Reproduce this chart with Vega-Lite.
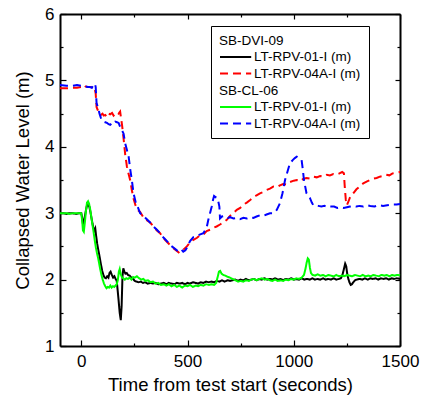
{
"$schema":"https://vega.github.io/schema/vega-lite/v6.json",
"width":340,"height":332,
"autosize":{"type":"none"},
"padding":{"left":60,"top":14,"right":21,"bottom":59},
"background":"white",
"config":{
 "view":{"stroke":null},
 "font":"Liberation Sans",
 "axis":{"grid":false,"domainColor":"black","domainWidth":2,"tickColor":"black","tickWidth":1.2,"labelColor":"black","titleColor":"black","labelFont":"Liberation Sans","titleFont":"Liberation Sans","labelFontSize":17,"titleFontSize":18.5,"titleFontWeight":"normal","labelFlush":false,"labelOverlap":false,"labelBound":false,"format":"d"},
 "legend":{"labelFont":"Liberation Sans","titleFont":"Liberation Sans","labelFontSize":13.5,"titleFontSize":13.5,"titleFontWeight":"normal","labelColor":"black","titleColor":"black","symbolType":"M-1,0H4.2","symbolSize":144,"symbolStrokeWidth":2,"labelOffset":21,"rowPadding":2.6,"titlePadding":2.5,"labelLimit":0}
},
"datasets":{
"dvi":[
{"s":"01","t":-100,"v":3.0},{"s":"01","t":-85,"v":3.0},{"s":"01","t":-70,"v":2.99},{"s":"01","t":-55,"v":3.0},{"s":"01","t":-40,"v":3.0},{"s":"01","t":-25,"v":2.99},{"s":"01","t":-10,"v":3.0},{"s":"01","t":0,"v":3.0},{"s":"01","t":4,"v":2.94},{"s":"01","t":8,"v":2.84},{"s":"01","t":13,"v":2.88},{"s":"01","t":18,"v":2.97},{"s":"01","t":23,"v":3.06},{"s":"01","t":28,"v":3.13},{"s":"01","t":33,"v":3.12},{"s":"01","t":38,"v":3.1},{"s":"01","t":43,"v":3.02},{"s":"01","t":48,"v":2.93},{"s":"01","t":53,"v":2.84},{"s":"01","t":58,"v":2.77},{"s":"01","t":62,"v":2.74},{"s":"01","t":66,"v":2.77},{"s":"01","t":70,"v":2.66},{"s":"01","t":75,"v":2.54},{"s":"01","t":80,"v":2.45},{"s":"01","t":86,"v":2.35},{"s":"01","t":92,"v":2.24},{"s":"01","t":98,"v":2.14},{"s":"01","t":104,"v":2.07},{"s":"01","t":110,"v":2.03},{"s":"01","t":116,"v":2.02},{"s":"01","t":122,"v":2.05},{"s":"01","t":128,"v":2.03},{"s":"01","t":133,"v":2.1},{"s":"01","t":138,"v":2.12},{"s":"01","t":144,"v":2.07},{"s":"01","t":150,"v":2.03},{"s":"01","t":156,"v":2.05},{"s":"01","t":162,"v":2.01},{"s":"01","t":167,"v":1.98},{"s":"01","t":171,"v":1.85},{"s":"01","t":176,"v":1.68},{"s":"01","t":181,"v":1.5},{"s":"01","t":186,"v":1.39},{"s":"01","t":190,"v":1.6},{"s":"01","t":194,"v":2.05},{"s":"01","t":198,"v":2.17},{"s":"01","t":203,"v":2.12},{"s":"01","t":208,"v":2.09},{"s":"01","t":214,"v":2.1},{"s":"01","t":220,"v":2.07},{"s":"01","t":228,"v":2.06},{"s":"01","t":236,"v":2.03},{"s":"01","t":244,"v":2.01},{"s":"01","t":252,"v":1.98},{"s":"01","t":260,"v":1.97},{"s":"01","t":270,"v":1.96},{"s":"01","t":280,"v":1.97},{"s":"01","t":290,"v":1.95},{"s":"01","t":300,"v":1.96},{"s":"01","t":312,"v":1.94},{"s":"01","t":325,"v":1.95},{"s":"01","t":338,"v":1.94},{"s":"01","t":350,"v":1.95},{"s":"01","t":362,"v":1.93},{"s":"01","t":375,"v":1.94},{"s":"01","t":388,"v":1.95},{"s":"01","t":400,"v":1.93},{"s":"01","t":412,"v":1.95},{"s":"01","t":425,"v":1.94},{"s":"01","t":438,"v":1.93},{"s":"01","t":450,"v":1.95},{"s":"01","t":462,"v":1.94},{"s":"01","t":475,"v":1.95},{"s":"01","t":488,"v":1.93},{"s":"01","t":500,"v":1.95},{"s":"01","t":512,"v":1.94},{"s":"01","t":525,"v":1.96},{"s":"01","t":538,"v":1.95},{"s":"01","t":550,"v":1.94},{"s":"01","t":562,"v":1.96},{"s":"01","t":575,"v":1.95},{"s":"01","t":588,"v":1.97},{"s":"01","t":600,"v":1.96},{"s":"01","t":612,"v":1.97},{"s":"01","t":625,"v":1.96},{"s":"01","t":638,"v":1.98},{"s":"01","t":650,"v":1.97},{"s":"01","t":662,"v":1.99},{"s":"01","t":675,"v":1.97},{"s":"01","t":688,"v":1.99},{"s":"01","t":700,"v":1.98},{"s":"01","t":712,"v":1.99},{"s":"01","t":725,"v":2.0},{"s":"01","t":738,"v":1.98},{"s":"01","t":750,"v":2.0},{"s":"01","t":762,"v":1.99},{"s":"01","t":775,"v":2.01},{"s":"01","t":788,"v":1.99},{"s":"01","t":800,"v":2.0},{"s":"01","t":812,"v":2.01},{"s":"01","t":825,"v":1.99},{"s":"01","t":838,"v":2.01},{"s":"01","t":850,"v":2.0},{"s":"01","t":862,"v":2.02},{"s":"01","t":875,"v":2.0},{"s":"01","t":888,"v":2.01},{"s":"01","t":900,"v":2.0},{"s":"01","t":912,"v":2.02},{"s":"01","t":925,"v":2.0},{"s":"01","t":938,"v":2.01},{"s":"01","t":950,"v":1.99},{"s":"01","t":962,"v":2.01},{"s":"01","t":975,"v":2.0},{"s":"01","t":988,"v":2.02},{"s":"01","t":1000,"v":2.0},{"s":"01","t":1012,"v":2.01},{"s":"01","t":1025,"v":2.0},{"s":"01","t":1038,"v":2.02},{"s":"01","t":1050,"v":2.0},{"s":"01","t":1062,"v":2.01},{"s":"01","t":1075,"v":2.0},{"s":"01","t":1088,"v":2.02},{"s":"01","t":1100,"v":2.0},{"s":"01","t":1112,"v":2.01},{"s":"01","t":1125,"v":2.0},{"s":"01","t":1138,"v":2.02},{"s":"01","t":1150,"v":2.0},{"s":"01","t":1162,"v":2.01},{"s":"01","t":1175,"v":2.0},{"s":"01","t":1188,"v":2.02},{"s":"01","t":1200,"v":2.0},{"s":"01","t":1212,"v":2.01},{"s":"01","t":1222,"v":2.02},{"s":"01","t":1230,"v":2.08},{"s":"01","t":1236,"v":2.16},{"s":"01","t":1242,"v":2.24},{"s":"01","t":1247,"v":2.2},{"s":"01","t":1252,"v":2.08},{"s":"01","t":1257,"v":2.01},{"s":"01","t":1262,"v":1.96},{"s":"01","t":1268,"v":1.92},{"s":"01","t":1274,"v":1.93},{"s":"01","t":1280,"v":1.96},{"s":"01","t":1288,"v":1.99},{"s":"01","t":1296,"v":2.0},{"s":"01","t":1310,"v":2.01},{"s":"01","t":1322,"v":2.0},{"s":"01","t":1335,"v":2.02},{"s":"01","t":1348,"v":2.0},{"s":"01","t":1360,"v":2.02},{"s":"01","t":1372,"v":2.01},{"s":"01","t":1385,"v":2.02},{"s":"01","t":1398,"v":2.0},{"s":"01","t":1410,"v":2.02},{"s":"01","t":1422,"v":2.01},{"s":"01","t":1435,"v":2.02},{"s":"01","t":1448,"v":2.0},{"s":"01","t":1460,"v":2.02},{"s":"01","t":1472,"v":2.01},{"s":"01","t":1485,"v":2.02},{"s":"01","t":1500,"v":2.01},
{"s":"04A","t":-100,"v":4.88},{"s":"04A","t":-70,"v":4.88},{"s":"04A","t":-40,"v":4.89},{"s":"04A","t":-20,"v":4.89},{"s":"04A","t":0,"v":4.9},{"s":"04A","t":8,"v":4.92},{"s":"04A","t":14,"v":4.93},{"s":"04A","t":20,"v":4.91},{"s":"04A","t":30,"v":4.9},{"s":"04A","t":45,"v":4.9},{"s":"04A","t":55,"v":4.89},{"s":"04A","t":62,"v":4.9},{"s":"04A","t":68,"v":4.8},{"s":"04A","t":72,"v":4.6},{"s":"04A","t":78,"v":4.55},{"s":"04A","t":85,"v":4.5},{"s":"04A","t":92,"v":4.48},{"s":"04A","t":100,"v":4.5},{"s":"04A","t":106,"v":4.47},{"s":"04A","t":113,"v":4.48},{"s":"04A","t":120,"v":4.45},{"s":"04A","t":128,"v":4.5},{"s":"04A","t":136,"v":4.49},{"s":"04A","t":145,"v":4.51},{"s":"04A","t":152,"v":4.47},{"s":"04A","t":160,"v":4.5},{"s":"04A","t":168,"v":4.52},{"s":"04A","t":176,"v":4.5},{"s":"04A","t":183,"v":4.53},{"s":"04A","t":188,"v":4.42},{"s":"04A","t":193,"v":4.3},{"s":"04A","t":200,"v":4.1},{"s":"04A","t":207,"v":3.88},{"s":"04A","t":215,"v":3.7},{"s":"04A","t":222,"v":3.6},{"s":"04A","t":230,"v":3.5},{"s":"04A","t":238,"v":3.35},{"s":"04A","t":246,"v":3.22},{"s":"04A","t":255,"v":3.12},{"s":"04A","t":265,"v":3.05},{"s":"04A","t":277,"v":3.02},{"s":"04A","t":290,"v":2.95},{"s":"04A","t":305,"v":2.9},{"s":"04A","t":324,"v":2.86},{"s":"04A","t":340,"v":2.8},{"s":"04A","t":356,"v":2.74},{"s":"04A","t":371,"v":2.7},{"s":"04A","t":388,"v":2.62},{"s":"04A","t":403,"v":2.57},{"s":"04A","t":418,"v":2.52},{"s":"04A","t":435,"v":2.47},{"s":"04A","t":450,"v":2.43},{"s":"04A","t":458,"v":2.41},{"s":"04A","t":468,"v":2.45},{"s":"04A","t":480,"v":2.45},{"s":"04A","t":497,"v":2.5},{"s":"04A","t":512,"v":2.56},{"s":"04A","t":528,"v":2.6},{"s":"04A","t":545,"v":2.63},{"s":"04A","t":560,"v":2.67},{"s":"04A","t":575,"v":2.68},{"s":"04A","t":590,"v":2.73},{"s":"04A","t":606,"v":2.75},{"s":"04A","t":621,"v":2.78},{"s":"04A","t":637,"v":2.8},{"s":"04A","t":653,"v":2.83},{"s":"04A","t":669,"v":2.86},{"s":"04A","t":685,"v":2.9},{"s":"04A","t":700,"v":2.96},{"s":"04A","t":716,"v":3.0},{"s":"04A","t":732,"v":3.05},{"s":"04A","t":748,"v":3.08},{"s":"04A","t":764,"v":3.13},{"s":"04A","t":779,"v":3.16},{"s":"04A","t":795,"v":3.2},{"s":"04A","t":810,"v":3.24},{"s":"04A","t":825,"v":3.27},{"s":"04A","t":841,"v":3.3},{"s":"04A","t":857,"v":3.32},{"s":"04A","t":872,"v":3.35},{"s":"04A","t":888,"v":3.37},{"s":"04A","t":904,"v":3.4},{"s":"04A","t":920,"v":3.39},{"s":"04A","t":935,"v":3.42},{"s":"04A","t":950,"v":3.44},{"s":"04A","t":966,"v":3.43},{"s":"04A","t":982,"v":3.47},{"s":"04A","t":1000,"v":3.49},{"s":"04A","t":1014,"v":3.5},{"s":"04A","t":1030,"v":3.48},{"s":"04A","t":1046,"v":3.52},{"s":"04A","t":1060,"v":3.53},{"s":"04A","t":1076,"v":3.52},{"s":"04A","t":1092,"v":3.55},{"s":"04A","t":1108,"v":3.54},{"s":"04A","t":1124,"v":3.56},{"s":"04A","t":1140,"v":3.55},{"s":"04A","t":1156,"v":3.58},{"s":"04A","t":1170,"v":3.57},{"s":"04A","t":1186,"v":3.59},{"s":"04A","t":1200,"v":3.58},{"s":"04A","t":1215,"v":3.6},{"s":"04A","t":1228,"v":3.62},{"s":"04A","t":1236,"v":3.6},{"s":"04A","t":1240,"v":3.4},{"s":"04A","t":1245,"v":3.2},{"s":"04A","t":1250,"v":3.12},{"s":"04A","t":1258,"v":3.18},{"s":"04A","t":1266,"v":3.25},{"s":"04A","t":1280,"v":3.3},{"s":"04A","t":1295,"v":3.36},{"s":"04A","t":1310,"v":3.4},{"s":"04A","t":1327,"v":3.45},{"s":"04A","t":1345,"v":3.48},{"s":"04A","t":1360,"v":3.5},{"s":"04A","t":1375,"v":3.52},{"s":"04A","t":1390,"v":3.53},{"s":"04A","t":1405,"v":3.55},{"s":"04A","t":1420,"v":3.56},{"s":"04A","t":1435,"v":3.58},{"s":"04A","t":1450,"v":3.57},{"s":"04A","t":1465,"v":3.6},{"s":"04A","t":1484,"v":3.61},{"s":"04A","t":1500,"v":3.62}
],
"cl":[
{"s":"01","t":-100,"v":3.0},{"s":"01","t":-85,"v":3.0},{"s":"01","t":-70,"v":3.0},{"s":"01","t":-55,"v":2.99},{"s":"01","t":-40,"v":3.0},{"s":"01","t":-25,"v":3.0},{"s":"01","t":-10,"v":3.0},{"s":"01","t":0,"v":3.0},{"s":"01","t":4,"v":2.9},{"s":"01","t":8,"v":2.74},{"s":"01","t":12,"v":2.72},{"s":"01","t":17,"v":2.86},{"s":"01","t":22,"v":3.03},{"s":"01","t":27,"v":3.16},{"s":"01","t":32,"v":3.18},{"s":"01","t":37,"v":3.14},{"s":"01","t":42,"v":3.06},{"s":"01","t":47,"v":2.95},{"s":"01","t":52,"v":2.84},{"s":"01","t":58,"v":2.72},{"s":"01","t":64,"v":2.58},{"s":"01","t":69,"v":2.48},{"s":"01","t":74,"v":2.4},{"s":"01","t":79,"v":2.33},{"s":"01","t":84,"v":2.25},{"s":"01","t":89,"v":2.16},{"s":"01","t":95,"v":2.07},{"s":"01","t":101,"v":2.0},{"s":"01","t":107,"v":1.94},{"s":"01","t":113,"v":1.9},{"s":"01","t":119,"v":1.87},{"s":"01","t":125,"v":1.89},{"s":"01","t":131,"v":1.88},{"s":"01","t":137,"v":1.91},{"s":"01","t":143,"v":1.88},{"s":"01","t":149,"v":1.9},{"s":"01","t":155,"v":1.89},{"s":"01","t":161,"v":1.91},{"s":"01","t":167,"v":1.93},{"s":"01","t":172,"v":1.99},{"s":"01","t":177,"v":2.12},{"s":"01","t":181,"v":2.16},{"s":"01","t":186,"v":2.08},{"s":"01","t":192,"v":2.03},{"s":"01","t":198,"v":2.02},{"s":"01","t":205,"v":2.0},{"s":"01","t":212,"v":2.02},{"s":"01","t":220,"v":2.01},{"s":"01","t":228,"v":2.03},{"s":"01","t":236,"v":2.0},{"s":"01","t":244,"v":2.04},{"s":"01","t":252,"v":2.03},{"s":"01","t":262,"v":2.05},{"s":"01","t":272,"v":2.02},{"s":"01","t":282,"v":2.0},{"s":"01","t":292,"v":2.01},{"s":"01","t":302,"v":1.98},{"s":"01","t":314,"v":1.99},{"s":"01","t":326,"v":1.96},{"s":"01","t":338,"v":1.97},{"s":"01","t":350,"v":1.94},{"s":"01","t":362,"v":1.95},{"s":"01","t":375,"v":1.92},{"s":"01","t":388,"v":1.93},{"s":"01","t":400,"v":1.91},{"s":"01","t":412,"v":1.93},{"s":"01","t":425,"v":1.9},{"s":"01","t":438,"v":1.92},{"s":"01","t":450,"v":1.89},{"s":"01","t":462,"v":1.91},{"s":"01","t":475,"v":1.88},{"s":"01","t":488,"v":1.91},{"s":"01","t":500,"v":1.9},{"s":"01","t":512,"v":1.92},{"s":"01","t":525,"v":1.89},{"s":"01","t":538,"v":1.91},{"s":"01","t":550,"v":1.9},{"s":"01","t":562,"v":1.92},{"s":"01","t":575,"v":1.91},{"s":"01","t":588,"v":1.93},{"s":"01","t":600,"v":1.92},{"s":"01","t":612,"v":1.93},{"s":"01","t":625,"v":1.92},{"s":"01","t":635,"v":1.95},{"s":"01","t":642,"v":2.04},{"s":"01","t":648,"v":2.12},{"s":"01","t":654,"v":2.13},{"s":"01","t":660,"v":2.09},{"s":"01","t":668,"v":2.07},{"s":"01","t":678,"v":2.06},{"s":"01","t":690,"v":2.04},{"s":"01","t":700,"v":2.03},{"s":"01","t":712,"v":2.01},{"s":"01","t":725,"v":1.99},{"s":"01","t":738,"v":1.97},{"s":"01","t":750,"v":1.98},{"s":"01","t":762,"v":1.97},{"s":"01","t":775,"v":1.99},{"s":"01","t":788,"v":1.98},{"s":"01","t":800,"v":2.0},{"s":"01","t":812,"v":2.01},{"s":"01","t":825,"v":1.99},{"s":"01","t":838,"v":2.01},{"s":"01","t":850,"v":2.02},{"s":"01","t":862,"v":2.0},{"s":"01","t":875,"v":2.01},{"s":"01","t":888,"v":1.99},{"s":"01","t":900,"v":1.98},{"s":"01","t":912,"v":2.0},{"s":"01","t":925,"v":1.98},{"s":"01","t":938,"v":1.99},{"s":"01","t":950,"v":1.98},{"s":"01","t":962,"v":2.0},{"s":"01","t":975,"v":1.99},{"s":"01","t":988,"v":2.01},{"s":"01","t":1000,"v":2.0},{"s":"01","t":1012,"v":2.02},{"s":"01","t":1025,"v":2.01},{"s":"01","t":1038,"v":2.03},{"s":"01","t":1048,"v":2.07},{"s":"01","t":1055,"v":2.16},{"s":"01","t":1061,"v":2.26},{"s":"01","t":1066,"v":2.32},{"s":"01","t":1071,"v":2.3},{"s":"01","t":1076,"v":2.18},{"s":"01","t":1081,"v":2.1},{"s":"01","t":1088,"v":2.07},{"s":"01","t":1100,"v":2.06},{"s":"01","t":1112,"v":2.08},{"s":"01","t":1125,"v":2.06},{"s":"01","t":1138,"v":2.07},{"s":"01","t":1150,"v":2.05},{"s":"01","t":1162,"v":2.07},{"s":"01","t":1175,"v":2.06},{"s":"01","t":1188,"v":2.05},{"s":"01","t":1200,"v":2.07},{"s":"01","t":1212,"v":2.05},{"s":"01","t":1225,"v":2.06},{"s":"01","t":1238,"v":2.05},{"s":"01","t":1250,"v":2.07},{"s":"01","t":1262,"v":2.06},{"s":"01","t":1275,"v":2.05},{"s":"01","t":1288,"v":2.07},{"s":"01","t":1300,"v":2.06},{"s":"01","t":1312,"v":2.05},{"s":"01","t":1325,"v":2.07},{"s":"01","t":1338,"v":2.05},{"s":"01","t":1350,"v":2.06},{"s":"01","t":1362,"v":2.05},{"s":"01","t":1375,"v":2.07},{"s":"01","t":1388,"v":2.06},{"s":"01","t":1400,"v":2.05},{"s":"01","t":1412,"v":2.07},{"s":"01","t":1425,"v":2.06},{"s":"01","t":1438,"v":2.07},{"s":"01","t":1450,"v":2.05},{"s":"01","t":1462,"v":2.07},{"s":"01","t":1475,"v":2.06},{"s":"01","t":1488,"v":2.07},{"s":"01","t":1500,"v":2.06},
{"s":"04A","t":-100,"v":4.93},{"s":"04A","t":-70,"v":4.92},{"s":"04A","t":-40,"v":4.92},{"s":"04A","t":-20,"v":4.93},{"s":"04A","t":0,"v":4.92},{"s":"04A","t":10,"v":4.92},{"s":"04A","t":20,"v":4.91},{"s":"04A","t":30,"v":4.9},{"s":"04A","t":40,"v":4.9},{"s":"04A","t":50,"v":4.89},{"s":"04A","t":58,"v":4.93},{"s":"04A","t":64,"v":4.95},{"s":"04A","t":68,"v":4.9},{"s":"04A","t":72,"v":4.66},{"s":"04A","t":78,"v":4.6},{"s":"04A","t":86,"v":4.5},{"s":"04A","t":92,"v":4.44},{"s":"04A","t":97,"v":4.4},{"s":"04A","t":105,"v":4.38},{"s":"04A","t":113,"v":4.37},{"s":"04A","t":121,"v":4.36},{"s":"04A","t":129,"v":4.34},{"s":"04A","t":136,"v":4.33},{"s":"04A","t":145,"v":4.36},{"s":"04A","t":152,"v":4.35},{"s":"04A","t":160,"v":4.38},{"s":"04A","t":168,"v":4.37},{"s":"04A","t":176,"v":4.36},{"s":"04A","t":183,"v":4.3},{"s":"04A","t":191,"v":4.25},{"s":"04A","t":199,"v":4.2},{"s":"04A","t":207,"v":4.05},{"s":"04A","t":215,"v":3.95},{"s":"04A","t":223,"v":3.85},{"s":"04A","t":231,"v":3.65},{"s":"04A","t":238,"v":3.5},{"s":"04A","t":246,"v":3.3},{"s":"04A","t":255,"v":3.18},{"s":"04A","t":265,"v":3.1},{"s":"04A","t":277,"v":3.0},{"s":"04A","t":290,"v":2.97},{"s":"04A","t":305,"v":2.92},{"s":"04A","t":324,"v":2.86},{"s":"04A","t":340,"v":2.8},{"s":"04A","t":356,"v":2.75},{"s":"04A","t":371,"v":2.7},{"s":"04A","t":388,"v":2.63},{"s":"04A","t":403,"v":2.58},{"s":"04A","t":418,"v":2.52},{"s":"04A","t":435,"v":2.48},{"s":"04A","t":450,"v":2.44},{"s":"04A","t":462,"v":2.42},{"s":"04A","t":472,"v":2.45},{"s":"04A","t":480,"v":2.42},{"s":"04A","t":490,"v":2.44},{"s":"04A","t":497,"v":2.48},{"s":"04A","t":512,"v":2.58},{"s":"04A","t":528,"v":2.64},{"s":"04A","t":545,"v":2.66},{"s":"04A","t":560,"v":2.68},{"s":"04A","t":575,"v":2.7},{"s":"04A","t":590,"v":2.78},{"s":"04A","t":598,"v":2.9},{"s":"04A","t":606,"v":3.0},{"s":"04A","t":614,"v":3.1},{"s":"04A","t":620,"v":3.2},{"s":"04A","t":625,"v":3.26},{"s":"04A","t":633,"v":3.24},{"s":"04A","t":641,"v":3.23},{"s":"04A","t":646,"v":3.16},{"s":"04A","t":650,"v":3.1},{"s":"04A","t":653,"v":2.92},{"s":"04A","t":662,"v":2.95},{"s":"04A","t":677,"v":2.96},{"s":"04A","t":690,"v":2.93},{"s":"04A","t":700,"v":2.94},{"s":"04A","t":716,"v":2.92},{"s":"04A","t":732,"v":2.93},{"s":"04A","t":747,"v":2.91},{"s":"04A","t":763,"v":2.93},{"s":"04A","t":779,"v":2.92},{"s":"04A","t":794,"v":2.94},{"s":"04A","t":810,"v":2.93},{"s":"04A","t":825,"v":2.95},{"s":"04A","t":841,"v":2.97},{"s":"04A","t":857,"v":2.96},{"s":"04A","t":872,"v":2.98},{"s":"04A","t":888,"v":3.0},{"s":"04A","t":904,"v":3.0},{"s":"04A","t":920,"v":3.05},{"s":"04A","t":935,"v":3.15},{"s":"04A","t":947,"v":3.3},{"s":"04A","t":959,"v":3.5},{"s":"04A","t":970,"v":3.62},{"s":"04A","t":982,"v":3.75},{"s":"04A","t":995,"v":3.8},{"s":"04A","t":1005,"v":3.83},{"s":"04A","t":1014,"v":3.85},{"s":"04A","t":1025,"v":3.83},{"s":"04A","t":1037,"v":3.8},{"s":"04A","t":1043,"v":3.65},{"s":"04A","t":1048,"v":3.5},{"s":"04A","t":1054,"v":3.4},{"s":"04A","t":1060,"v":3.3},{"s":"04A","t":1068,"v":3.27},{"s":"04A","t":1076,"v":3.23},{"s":"04A","t":1085,"v":3.16},{"s":"04A","t":1092,"v":3.12},{"s":"04A","t":1100,"v":3.12},{"s":"04A","t":1115,"v":3.11},{"s":"04A","t":1130,"v":3.1},{"s":"04A","t":1145,"v":3.11},{"s":"04A","t":1160,"v":3.09},{"s":"04A","t":1175,"v":3.1},{"s":"04A","t":1190,"v":3.1},{"s":"04A","t":1205,"v":3.08},{"s":"04A","t":1220,"v":3.09},{"s":"04A","t":1235,"v":3.08},{"s":"04A","t":1250,"v":3.09},{"s":"04A","t":1265,"v":3.1},{"s":"04A","t":1280,"v":3.11},{"s":"04A","t":1295,"v":3.1},{"s":"04A","t":1310,"v":3.11},{"s":"04A","t":1327,"v":3.1},{"s":"04A","t":1345,"v":3.12},{"s":"04A","t":1360,"v":3.11},{"s":"04A","t":1380,"v":3.1},{"s":"04A","t":1400,"v":3.12},{"s":"04A","t":1420,"v":3.11},{"s":"04A","t":1440,"v":3.12},{"s":"04A","t":1460,"v":3.13},{"s":"04A","t":1484,"v":3.13},{"s":"04A","t":1500,"v":3.14}
]
},
"layer":[
{
 "data":{"name":"dvi"},
 "mark":{"type":"line","strokeWidth":2},
 "encoding":{
  "x":{"field":"t","type":"quantitative","scale":{"domain":[-100,1500],"nice":false,"zero":false},"axis":{"orient":"bottom","title":"Time from test start (seconds)","values":[0,500,1000,1500],"tickSize":-6,"labelPadding":13,"titlePadding":6}},
  "y":{"field":"v","type":"quantitative","scale":{"domain":[1,6],"nice":false,"zero":false},"axis":{"orient":"left","title":"Collapsed Water Level (m)","values":[1,2,3,4,5,6],"tickSize":-6,"labelPadding":12,"titlePadding":12}},
  "color":{"field":"s","type":"nominal","scale":{"domain":["01","04A","x1","x2","x3"],"range":["#000000","#ff0000","transparent","transparent","transparent"]},
   "legend":{"title":"SB-DVI-09","orient":"none","legendX":151,"legendY":12,"strokeColor":"black","fillColor":"white","padding":8,"labelExpr":"datum.label == '01' ? 'LT-RPV-01-I (m)' : datum.label == '04A' ? 'LT-RPV-04A-I (m)' : ''"}},
  "strokeDash":{"field":"s","type":"nominal","scale":{"domain":["01","04A","x1","x2","x3"],"range":[[1,0],[8,5],[1,0],[1,0],[1,0]]}}
 }
},
{
 "data":{"name":"cl"},
 "mark":{"type":"line","strokeWidth":2},
 "encoding":{
  "x":{"field":"t","type":"quantitative","scale":{"domain":[-100,1500],"nice":false,"zero":false},"axis":{"orient":"top","title":null,"labels":false,"values":[0,500,1000,1500],"tickSize":-5}},
  "y":{"field":"v","type":"quantitative","scale":{"domain":[1,6],"nice":false,"zero":false},"axis":{"orient":"right","title":null,"labels":false,"values":[1,2,3,4,5,6],"tickSize":-5}},
  "color":{"field":"s","type":"nominal","scale":{"domain":["01","04A"],"range":["#00ff00","#0000ff"]},
   "legend":{"title":"SB-CL-06","orient":"none","legendX":151,"legendY":62,"padding":8,"labelExpr":"datum.label == '01' ? 'LT-RPV-01-I (m)' : 'LT-RPV-04A-I (m)'"}},
  "strokeDash":{"field":"s","type":"nominal","scale":{"domain":["01","04A"],"range":[[1,0],[8,5]]}}
 }
},
{
 "data":{"name":"dvi"},
 "mark":{"type":"line","opacity":0},
 "encoding":{
  "x":{"field":"t","type":"quantitative","axis":{"orient":"bottom","title":null,"labels":false,"domain":false,"values":[250,750,1250],"tickSize":-3}},
  "y":{"field":"v","type":"quantitative","axis":{"orient":"left","title":null,"labels":false,"domain":false,"values":[1.5,2.5,3.5,4.5,5.5],"tickSize":-3}}
 }
},
{
 "data":{"name":"dvi"},
 "mark":{"type":"line","opacity":0},
 "encoding":{
  "x":{"field":"t","type":"quantitative","axis":{"orient":"top","title":null,"labels":false,"domain":false,"values":[250,750,1250],"tickSize":-3}},
  "y":{"field":"v","type":"quantitative","axis":{"orient":"right","title":null,"labels":false,"domain":false,"values":[1.5,2.5,3.5,4.5,5.5],"tickSize":-3}}
 }
}
],
"resolve":{"axis":{"x":"independent","y":"independent"},"scale":{"color":"independent","strokeDash":"independent"}}
}
